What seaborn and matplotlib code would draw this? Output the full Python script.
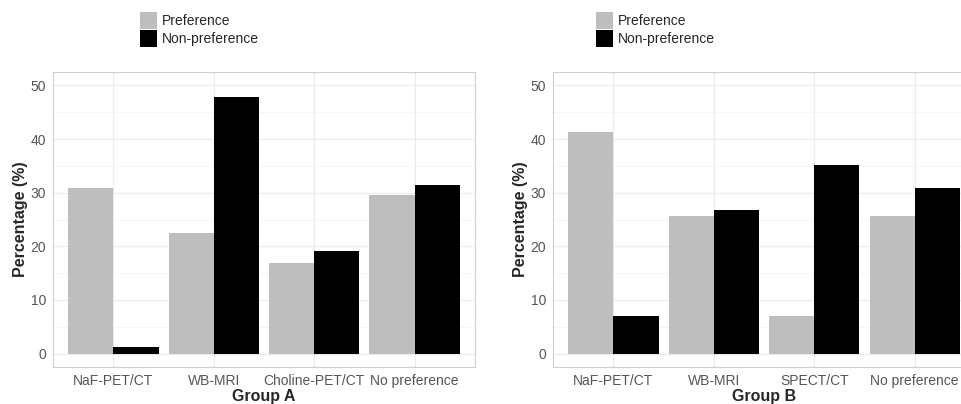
import pandas as pd
import matplotlib
matplotlib.use("Agg")
import matplotlib.pyplot as plt
import seaborn as sns
from matplotlib.ticker import MultipleLocator

# Values
series = ["Preference", "Non-preference"]
cats_a = ["NaF-PET/CT", "WB-MRI", "Choline-PET/CT", "No preference"]
pref_a = [30.9, 22.5, 16.8, 29.5]
nonpref_a = [1.3, 47.9, 19.1, 31.4]

cats_b = ["NaF-PET/CT", "WB-MRI", "SPECT/CT", "No preference"]
pref_b = [41.3, 25.6, 7.0, 25.6]
nonpref_b = [7.0, 26.7, 35.1, 30.9]

y_ticks = [0, 10, 20, 30, 40, 50]
colors = {"Preference": "#BEBEBE", "Non-preference": "#000000"}

sns.set_style("white")
plt.rcParams["font.family"] = ["Liberation Sans", "DejaVu Sans"]


def long_df(cats, pref, nonpref):
    return pd.DataFrame({
        "category": cats + cats,
        "group": [series[0]] * len(cats) + [series[1]] * len(cats),
        "value": pref + nonpref,
    })


fig = plt.figure(figsize=(9.62, 4.04), dpi=100)
W, H = 962, 404
ax_a = fig.add_axes([53 / W, 37 / H, 422 / W, 295 / H])
ax_b = fig.add_axes([553 / W, 37 / H, 422 / W, 295 / H])

panels = [
    (ax_a, long_df(cats_a, pref_a, nonpref_a), cats_a, "Group A", 140),
    (ax_b, long_df(cats_b, pref_b, nonpref_b), cats_b, "Group B", 596),
]

for ax, df, cats, title, leg_x in panels:
    sns.barplot(data=df, x="category", y="value", hue="group", order=cats,
                hue_order=series, palette=colors, width=0.9, gap=0,
                linewidth=0, saturation=1, ax=ax)
    ax.set_xlim(-0.6, len(cats) - 0.4)
    ax.set_ylim(-2.5, 52.5)
    ax.set_yticks(y_ticks)
    ax.yaxis.set_minor_locator(MultipleLocator(5))
    ax.set_axisbelow(True)
    ax.grid(True, which="major", color="#EBEBEB", linewidth=0.8)
    ax.grid(True, which="minor", axis="y", color="#F4F4F4", linewidth=0.6)
    for sp in ax.spines.values():
        sp.set_visible(True)
        sp.set_color("#CFCFCF")
        sp.set_linewidth(0.8)
    ax.tick_params(axis="both", which="major", length=3, width=0.6,
                   color="#BDBDBD", labelsize=10, labelcolor="#555555", pad=2)
    ax.tick_params(axis="y", which="minor", length=0)
    ax.set_xlabel(title, fontsize=11.5, fontweight="bold", labelpad=1)
    ax.set_ylabel("Percentage (%)", fontsize=11.5, fontweight="bold", labelpad=2)
    handles, labels = ax.get_legend_handles_labels()
    ax.legend(handles, labels, loc="upper left",
              bbox_to_anchor=(leg_x / W, 1 - 12 / H),
              bbox_transform=fig.transFigure, frameon=False, fontsize=10,
              handlelength=1.25, handleheight=1.5, handletextpad=0.3,
              labelspacing=0.05, borderpad=0, borderaxespad=0)

fig.savefig("out.png", dpi=100)
